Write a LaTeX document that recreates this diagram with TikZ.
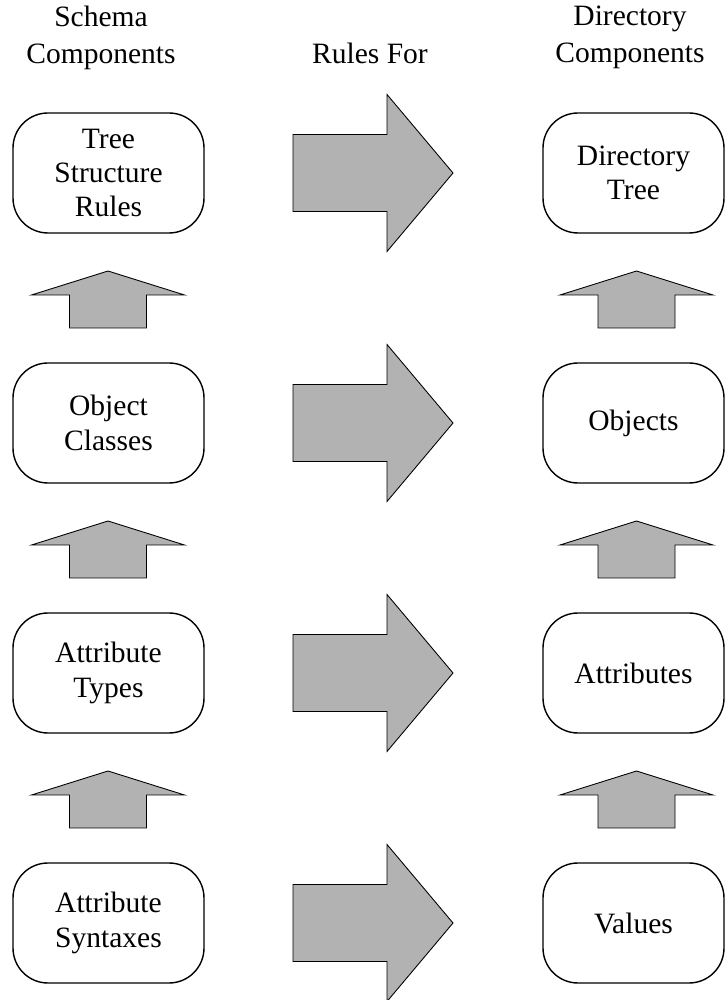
\documentclass[tikz,border=0pt]{standalone}
\usepackage{fontspec}
\setmainfont{Liberation Serif}
\usetikzlibrary{calc}
\colorlet{arrowgray}{gray!60}
\newcommand{\upblock}[2]{%
  \filldraw[blockarrow] (#1-0.77,#2-3.1) -- (#1-0.77,#2-2.44) -- (#1-1.53,#2-2.44)
    -- (#1,#2-1.96) -- (#1+1.53,#2-2.44) -- (#1+0.77,#2-2.44) -- (#1+0.77,#2-3.1) -- cycle;}

\begin{document}
\begin{tikzpicture}[scale=1,
  every node/.style={font=\fontsize{16.8}{21}\selectfont},
  comp/.style={draw,line width=0.8pt,rounded corners=0.7cm,fill=white,align=center,
    font=\fontsize{16.8}{19.5}\selectfont,
    minimum height=2.4cm,text width=3.3cm,inner sep=0pt},
  blockarrow/.style={fill=arrowgray,draw=black,line width=0.5pt}]
\useasboundingbox (0,0) rectangle (14.5,20);
\node[align=center] (schematitle) at (2.02,19.25) {Schema\\Components};
\node (rulestitle) at (7.4,18.94) {Rules For};
\node[align=center] (dirtitle) at (12.6,19.25) {Directory\\Components};
\foreach \y/\s/\d [count=\i] in {16.54/{Tree\\Structure\\Rules}/{Directory\\Tree},
    11.54/{Object\\Classes}/{Objects}, 6.54/{Attribute\\Types}/{Attributes},
    1.54/{Attribute\\Syntaxes}/{Values}}
{
  \node[comp,minimum width=3.82cm] (schema\i) at (2.17,\y) {\s};
  \node[comp,minimum width=3.62cm] (dir\i) at (12.67,\y) {\d};
  \filldraw[blockarrow] (5.86,\y+0.77) -- (7.74,\y+0.77) -- (7.74,\y+1.57) -- (9.06,\y)
    -- (7.74,\y-1.57) -- (7.74,\y-0.77) -- (5.86,\y-0.77) -- cycle;
}
\foreach \y in {16.54,11.54,6.54}
{
  \upblock{2.16}{\y}
  \upblock{12.73}{\y}
}
\end{tikzpicture}
\end{document}
